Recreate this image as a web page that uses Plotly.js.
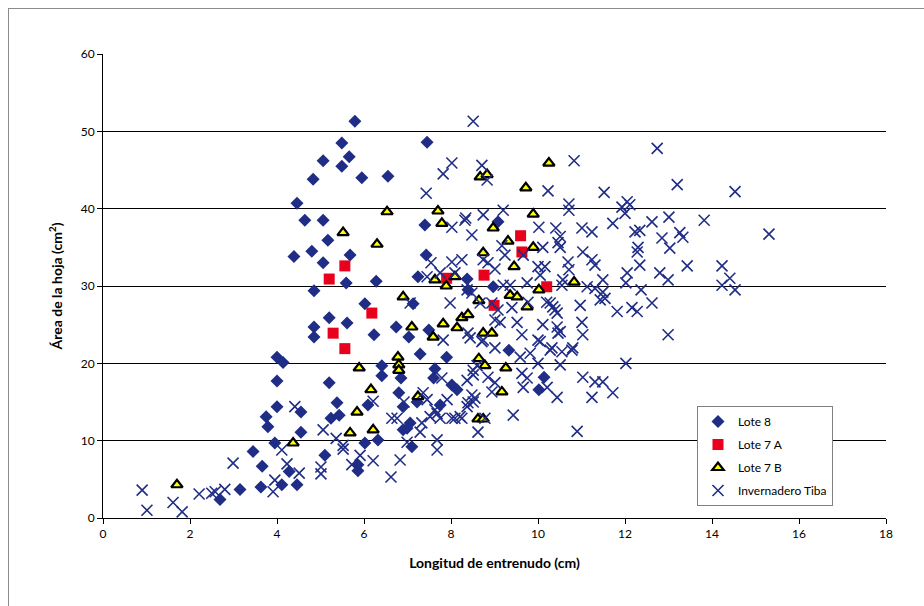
<!DOCTYPE html>
<html><head><meta charset="utf-8">
<script src="https://cdn.plot.ly/plotly-3.0.1.min.js"></script>
<style>
html,body{margin:0;padding:0;background:#fff;overflow:hidden;}
#frame{position:absolute;left:8px;top:8px;width:940px;height:620px;border:1px solid #8c8c8c;box-sizing:border-box;pointer-events:none;z-index:5;}
#chart{position:absolute;left:0;top:0;width:924px;height:606px;}
</style></head>
<body>
<div id="chart"></div><div id="frame"></div>
<script>
// Lote 8 (diamonds)
const lote8X = [5.79,5.49,5.66,5.06,5.49,4.83,5.95,6.55,7.45,4.46,4.64,5.06,5.17,4.8,5.68,4.39,5.06,7.4,7.43,7.24,5.59,6.28,4.85,8.39,8.37,8.97,9.08,6.02,7.13,5.2,5.61,4.85,4.85,6.23,6.74,7.03,7.29,7.49,4.0,4.14,6.41,6.41,5.2,7.63,7.6,6.85,4.0,4.0,3.75,3.79,4.55,3.95,3.45,3.66,4.28,3.15,2.69,3.63,4.11,4.46,4.55,5.38,5.24,5.43,6.09,6.8,5.1,6.02,6.32,5.86,5.86,6.9,7.06,6.99,7.1,7.9,8.02,8.14,7.22,7.75,6.9,9.33,10.14,10.02];
const lote8Y = [51.3,48.5,46.7,46.2,45.5,43.8,44.0,44.2,48.6,40.7,38.5,38.5,35.9,34.5,34.0,33.8,33.0,37.9,34.0,31.2,30.4,30.6,29.4,29.5,30.9,29.9,38.3,27.7,27.7,25.9,25.2,24.7,23.4,23.7,24.7,23.4,21.2,24.3,20.8,20.1,19.7,18.4,17.5,19.3,18.1,18.1,17.7,14.4,13.1,11.8,11.1,9.7,8.6,6.7,6.0,3.7,2.4,4.0,4.3,4.3,13.7,14.9,12.9,13.3,14.6,16.2,8.1,9.7,10.1,6.9,6.1,14.4,12.3,11.6,9.2,20.8,17.2,16.6,15.0,14.6,11.4,21.7,18.2,16.6];

// Lote 7 A (squares)
const lote7AX = [5.2,5.56,5.29,5.56,6.18,7.9,8.76,8.99,9.6,9.63,10.2];
const lote7AY = [30.9,32.6,23.9,21.9,26.5,31.0,31.4,27.5,36.5,34.4,29.9];

// Lote 7 B (triangles)
const lote7BX = [1.7,4.37,5.52,6.3,6.53,5.68,5.84,5.89,6.16,6.21,6.9,7.1,6.78,6.8,6.8,7.24,7.59,7.63,7.7,7.79,7.89,8.09,7.82,8.14,8.25,8.39,8.64,8.67,8.83,8.74,8.97,8.74,8.94,8.64,8.78,8.62,8.74,9.17,9.26,9.31,9.36,9.52,9.45,9.72,9.75,9.89,9.89,10.02,10.25,10.83];
const lote7BY = [4.3,9.7,36.9,35.4,39.6,11.0,13.7,19.4,16.6,11.4,28.6,24.7,20.8,19.8,19.1,15.7,23.4,30.8,39.7,38.1,30.0,31.2,25.1,24.6,25.9,26.3,28.1,44.1,44.4,34.3,37.5,23.9,23.9,20.6,19.7,12.8,12.8,16.3,19.4,35.8,28.8,28.6,32.5,42.7,27.3,39.3,35.0,29.5,45.9,30.5];

// Invernadero Tiba (crosses)
const tibaX = [0.9,1.01,1.61,1.82,2.21,2.5,2.58,2.8,2.99,3.91,3.95,4.11,4.23,4.41,4.51,
5.06,5.01,5.01,5.36,5.52,5.52,5.72,5.91,6.21,6.62,6.83,6.21,6.64,6.76,6.92,6.99,7.33,7.29,7.52,7.36,7.68,7.68,7.45,7.68,7.75,7.91,8.02,8.21,8.39,8.55,7.79,8.37,8.51,8.6,8.39,8.44,7.82,7.06,
8.71,9.01,9.63,9.82,10.05,10.28,10.55,10.78,11.03,10.46,9.59,10.0,10.51,8.51,8.85,9.01,8.94,9.63,9.75,9.66,10.21,10.44,11.03,11.31,11.49,11.24,8.48,8.51,8.37,7.63,8.09,8.25,8.62,9.43,10.9,
8.94,10.28,10.39,10.97,11.43,11.82,12.16,12.28,12.62,9.01,9.52,10.11,10.44,10.51,11.01,10.0,8.74,10.32,10.8,12.99,12.02,11.72,8.78,
12.74,10.83,10.23,11.52,13.2,8.71,8.83,10.71,10.71,11.93,12.05,12.11,12.0,9.2,8.74,10.02,10.41,10.51,11.01,11.24,11.72,12.23,12.34,12.62,13.01,13.26,10.46,10.51,10.11,12.3,12.28,12.85,13.03,11.03,11.24,12.34,9.24,9.66,8.85,10.69,10.71,11.31,10.16,12.05,12.8,12.99,
14.53,13.82,13.33,15.31,13.43,14.23,14.41,14.23,14.53,
7.82,8.32,8.02,8.48,9.17,8.25,8.02,9.01,10.0,8.09,10.57,10.55,11.13,11.31,11.49,9.2,9.36,9.75,8.37,8.48,8.67,9.08,9.4,9.77,10.2,10.34,10.44,11.49,11.54,9.13,
8.51,7.43,8.02,8.34,7.54,7.45,7.75,8.74,7.98,12.02,12.37,10.05];
const tibaY = [3.6,1.0,2.0,0.8,3.1,3.2,3.4,3.7,7.1,3.4,4.9,8.8,7.0,14.4,5.8,
11.4,6.6,5.7,10.3,9.4,8.9,6.9,8.1,7.4,5.3,7.5,15.1,12.9,12.9,15.0,9.8,12.3,11.1,13.1,16.2,10.1,8.8,15.3,13.5,12.9,15.3,12.9,13.1,14.9,15.5,18.1,17.8,18.5,19.7,23.9,23.3,23.0,27.8,
22.8,22.0,23.7,21.3,22.8,21.7,21.5,21.7,23.7,23.9,20.8,20.0,19.8,19.1,18.2,17.5,16.3,18.7,18.1,16.9,16.9,15.6,18.2,17.6,17.6,15.6,15.9,15.0,14.4,14.0,12.9,12.9,11.1,13.3,11.2,
27.8,27.8,26.9,27.5,28.2,26.7,27.2,26.7,27.8,25.6,25.3,25.0,24.7,24.1,25.3,23.0,23.0,22.0,22.0,23.7,20.0,16.2,12.9,
47.8,46.2,42.3,42.1,43.1,45.6,43.7,40.6,39.8,40.2,40.9,40.5,39.4,39.8,39.2,37.6,37.5,36.4,37.5,37.0,38.1,37.0,37.2,38.3,38.9,36.9,35.6,35.0,35.0,35.0,34.4,36.2,34.9,34.4,33.4,32.7,34.0,34.0,33.0,33.1,32.1,32.7,32.5,31.7,31.7,30.8,
42.2,38.5,36.3,36.7,32.6,32.6,31.0,30.1,29.5,
44.5,38.5,37.6,36.6,35.2,33.4,33.1,32.2,32.5,31.7,30.8,30.1,29.9,29.7,30.8,30.1,30.1,30.4,29.5,29.1,27.8,26.9,27.2,27.9,27.9,27.3,26.5,29.2,28.4,25.3,
51.3,42.0,45.9,38.8,33.0,31.2,31.7,33.4,27.8,30.4,29.5,31.4];

const xTickVals = [0,2,4,6,8,10,12,14,16,18];
const yTickVals = [0,10,20,30,40,50,60];

const navy = '#1f2d86';
const fam = 'Lato, "Liberation Sans", sans-serif';
const traces = [
  {x: lote8X, y: lote8Y, name: 'Lote 8', type: 'scatter', mode: 'markers', legendgroup: 'a',
   marker: {symbol: 'diamond', size: 10, color: navy, line: {width: 0}}},
  {x: lote7AX, y: lote7AY, name: 'Lote 7 A', type: 'scatter', mode: 'markers', legendgroup: 'b',
   marker: {symbol: 'square', size: 11, color: '#e8001c', line: {width: 0}}},
  {x: lote7BX, y: lote7BY, name: 'Lote 7 B', type: 'scatter', mode: 'markers', legendgroup: 'c',
   marker: {symbol: 'triangle-up', size: 10, color: '#ffff00', line: {width: 2.2, color: '#000'}}},
  {x: tibaX, y: tibaY, name: 'Invernadero Tiba', type: 'scatter', mode: 'markers', legendgroup: 'd',
   marker: {symbol: 'x-thin-open', size: 11, color: navy, line: {width: 1.6, color: navy}}}
];

const layout = {
  width: 924, height: 606,
  margin: {l: 103, r: 38, t: 54, b: 88},
  paper_bgcolor: '#fff', plot_bgcolor: '#fff',
  font: {family: fam, size: 12, color: '#000'},
  showlegend: true,
  legend: {x: 0.7586, y: 0.2414, xanchor: 'left', yanchor: 'top',
    bgcolor: '#fff', bordercolor: '#808080', borderwidth: 1,
    font: {family: fam, size: 12, color: '#000'},
    traceorder: 'grouped', tracegroupgap: 4},
  xaxis: {range: [0, 18], tickvals: xTickVals, ticktext: xTickVals.map(String),
    showgrid: false, zeroline: false, showline: true, linecolor: '#000', linewidth: 1,
    ticks: 'outside', ticklen: 5, tickcolor: '#000',
    tickfont: {size: 12},
    title: {text: 'Longitud de entrenudo (cm)', font: {size: 14, family: fam, weight: 'bold'}, standoff: 17}},
  yaxis: {range: [0, 60], tickvals: yTickVals, ticktext: yTickVals.map(String),
    showgrid: true, gridcolor: '#000', gridwidth: 1, zeroline: false,
    showline: true, linecolor: '#000', linewidth: 1,
    ticks: 'outside', ticklen: 5, tickcolor: '#000',
    tickfont: {size: 12},
    title: {text: 'Área de la hoja (cm<sup>2</sup>)', font: {size: 14, family: fam, weight: 'bold'}, standoff: 14}}
};

Plotly.newPlot('chart', traces, layout, {displayModeBar: false, staticPlot: true});
</script>
</body></html>
